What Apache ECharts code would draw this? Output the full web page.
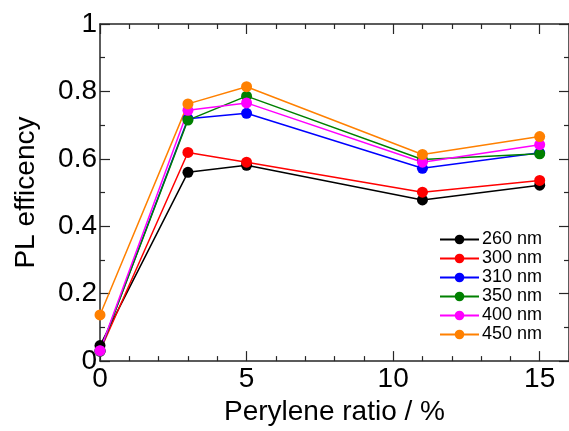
<!DOCTYPE html>
<html>
<head>
    <meta charset="utf-8">
    <title>PL efficiency</title>
    <script src="https://cdn.jsdelivr.net/npm/echarts@6/dist/echarts.min.js"></script>
    <style>
        html, body { margin: 0; padding: 0; background: #fff; }
        #chart { width: 569px; height: 431px; }
    </style>
</head>
<body>
<div id="chart"></div>
<script type="text/javascript">
    // perylene ratio (%)
    var ratios = [0, 3, 5, 11, 15];
    var seriesNames = ['260 nm', '300 nm', '310 nm', '350 nm', '400 nm', '450 nm'];
    var colors = ['#000000', '#ff0000', '#0000ff', '#008000', '#ff00ff', '#ff8000'];
    var pl260 = [0.046, 0.560, 0.581, 0.478, 0.522];
    var pl300 = [0.030, 0.619, 0.590, 0.501, 0.536];
    var pl310 = [0.030, 0.719, 0.735, 0.572, 0.618];
    var pl350 = [0.030, 0.715, 0.786, 0.598, 0.615];
    var pl400 = [0.031, 0.744, 0.766, 0.590, 0.642];
    var pl450 = [0.137, 0.763, 0.814, 0.613, 0.666];
    var values = [pl260, pl300, pl310, pl350, pl400, pl450];

    var font = 'Liberation Sans, Arial, sans-serif';
    var axisColor = '#262626';

    var series = [];
    for (var i = 0; i < seriesNames.length; i++) {
        var pts = [];
        for (var j = 0; j < ratios.length; j++) {
            pts.push([ratios[j], values[i][j]]);
        }
        series.push({
            name: seriesNames[i],
            type: 'line',
            data: pts,
            symbol: 'circle',
            symbolSize: 11,
            color: colors[i],
            lineStyle: { width: 1.5, color: colors[i] },
            itemStyle: { color: colors[i] },
            animation: false
        });
    }

    function frameAxis(pos, isX) {
        return {
            type: 'value',
            position: pos,
            min: 0,
            max: isX ? 16 : 1,
            interval: isX ? 5 : 0.2,
            axisLine: { show: true, onZero: false, lineStyle: { color: axisColor, width: 1.5 } },
            axisTick: { show: true, inside: true, length: 10, lineStyle: { color: axisColor, width: 1.2 } },
            minorTick: { show: true, splitNumber: isX ? 5 : 2, length: 5, lineStyle: { color: axisColor, width: 1.2 } },
            splitLine: { show: false },
            axisLabel: { show: false }
        };
    }

    var xMain = frameAxis('bottom', true);
    xMain.axisLabel = { show: true, showMaxLabel: false, fontSize: 28, color: '#000', fontFamily: font, margin: 4 };
    xMain.name = 'Perylene ratio / %';
    xMain.nameLocation = 'middle';
    xMain.nameGap = 35;
    xMain.nameTextStyle = { fontSize: 28, color: '#000', fontFamily: font };

    var yMain = frameAxis('left', false);
    yMain.axisLabel = { show: true, fontSize: 28, color: '#000', fontFamily: font, margin: 3 };
    yMain.name = 'PL efficency';
    yMain.nameLocation = 'middle';
    yMain.nameGap = 60;
    yMain.nameTextStyle = { fontSize: 28, color: '#000', fontFamily: font };

    var chart = echarts.init(document.getElementById('chart'));
    chart.setOption({
        backgroundColor: '#ffffff',
        animation: false,
        grid: { left: 100, top: 24, width: 478, height: 339, containLabel: false },
        xAxis: [xMain, frameAxis('top', true)],
        yAxis: [yMain, frameAxis('right', false)],
        legend: {
            orient: 'vertical',
            left: 434,
            top: 225,
            itemWidth: 39,
            itemHeight: 12,
            itemGap: 0,
            data: seriesNames,
            itemStyle: { borderWidth: 0 },
            lineStyle: { width: 2 },
            textStyle: { fontSize: 18, lineHeight: 19, color: '#000', fontFamily: font, padding: [0, 0, 0, -2] }
        },
        series: series
    });
</script>
</body>
</html>
